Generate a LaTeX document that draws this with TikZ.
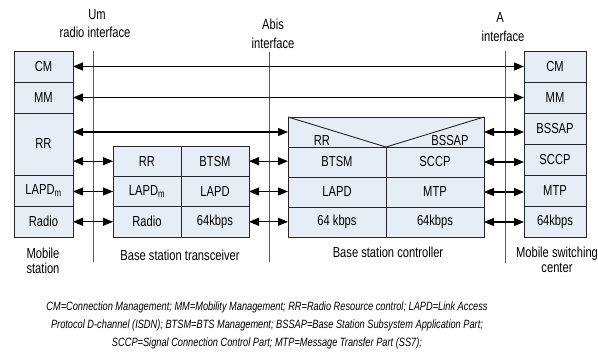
\documentclass[tikz,border=0pt]{standalone}
\usepackage{fontspec}
\setmainfont{Liberation Sans}[FakeStretch=0.77]
\usetikzlibrary{arrows.meta}
\definecolor{cellfill}{RGB}{230,237,247}
\definecolor{ifline}{RGB}{90,90,90}
\tikzset{
 cell/.style={draw=black!85, fill=cellfill, line width=0.9pt, inner sep=0pt, outer sep=0pt, font=\fontsize{14.5}{16}\selectfont},
 link/.style={line width=1.1pt, {Triangle[length=10pt,width=8pt]}-{Triangle[length=10pt,width=8pt]}},
 ifc/.style={draw=ifline, line width=0.9pt},
 lbl/.style={font=\fontsize{14.5}{15.5}\selectfont, align=center, inner sep=0pt},
 captxt/.style={font=\itshape\fontsize{12}{18}\selectfont, align=center, inner sep=0pt}
}
\begin{document}
\begin{tikzpicture}[x=1pt,y=-1pt]
\useasboundingbox (0,0) rectangle (598,360);
% interface lines
\coordinate (umT) at (93,51); \coordinate (umB) at (93,262);
\coordinate (abT) at (269,52); \coordinate (abB) at (269,262);
\coordinate (aT) at (505,51); \coordinate (aB) at (505,263);
\draw[ifc] (umT) -- (umB);
\draw[ifc] (abT) -- (abB);
\draw[ifc] (aT) -- (aB);
\node[lbl] (umlbl) at (97,15) {Um};
\node[lbl] (umlbl2) at (95,32) {radio interface};
\node[lbl] (ablbl) at (273,24) {Abis};
\node[lbl] (ablbl2) at (273,43) {interface};
\node[lbl] (albl) at (500,18) {A};
\node[lbl] (albl2) at (503,36) {interface};
% mobile station
\node[cell, minimum width=59pt, minimum height=31pt] (msCM) at (43.5,66.5) {CM};
\node[cell, minimum width=59pt, minimum height=31pt] (msMM) at (43.5,97.5) {MM};
\node[cell, minimum width=59pt, minimum height=62pt] (msRR) at (43.5,144) {RR};
\node[cell, minimum width=59pt, minimum height=31pt] (msLAPD) at (43.5,190.5) {LAPD\textsubscript{m}};
\node[cell, minimum width=59pt, minimum height=31pt] (msRadio) at (43.5,221.5) {Radio};
% BTS
\node[cell, minimum width=68pt, minimum height=30.33pt] (btsRR) at (147,161.2) {RR};
\node[cell, minimum width=68pt, minimum height=30.33pt] (btsBTSM) at (215,161.2) {BTSM};
\node[cell, minimum width=68pt, minimum height=30.33pt] (btsLAPDm) at (147,191.5) {LAPD\textsubscript{m}};
\node[cell, minimum width=68pt, minimum height=30.33pt] (btsLAPD) at (215,191.5) {LAPD};
\node[cell, minimum width=68pt, minimum height=30.33pt] (btsRadio) at (147,221.8) {Radio};
\node[cell, minimum width=68pt, minimum height=30.33pt] (bts64) at (215,221.8) {64kbps};
% BSC
\node[cell, minimum width=196pt, minimum height=30pt] (bscTop) at (386,132) {};
\draw[line width=0.9pt, black!85] (bscTop.north west) -- (bscTop.south) -- (bscTop.north east);
\node[lbl] (bscRRl) at (322,141) {RR};
\node[lbl] (bscBSSAPl) at (450,141) {BSSAP};
\node[cell, minimum width=98pt, minimum height=30pt] (bscBTSM) at (337,162) {BTSM};
\node[cell, minimum width=98pt, minimum height=30pt] (bscSCCP) at (435,162) {SCCP};
\node[cell, minimum width=98pt, minimum height=30pt] (bscLAPD) at (337,192) {LAPD};
\node[cell, minimum width=98pt, minimum height=30pt] (bscMTP) at (435,192) {MTP};
\node[cell, minimum width=98pt, minimum height=30pt] (bsc64a) at (337,222) {64 kbps};
\node[cell, minimum width=98pt, minimum height=30pt] (bsc64b) at (435,222) {64kbps};
% MSC
\node[cell, minimum width=62pt, minimum height=31pt] (mscCM) at (555,66.5) {CM};
\node[cell, minimum width=62pt, minimum height=31pt] (mscMM) at (555,97.5) {MM};
\node[cell, minimum width=62pt, minimum height=31pt] (mscBSSAP) at (555,128.5) {BSSAP};
\node[cell, minimum width=62pt, minimum height=31pt] (mscSCCP) at (555,159.5) {SCCP};
\node[cell, minimum width=62pt, minimum height=31pt] (mscMTP) at (555,190.5) {MTP};
\node[cell, minimum width=62pt, minimum height=31pt] (msc64) at (555,221.5) {64kbps};
% links
\draw[link] (msCM.east) -- (mscCM.west);
\draw[link] (msMM.east) -- (mscMM.west);
\draw[link] (msRR.east |- bscTop.west) -- (bscTop.west);
\draw[link] (bscTop.east) -- (mscBSSAP.west |- bscTop.east);
\draw[link] (msRR.east |- btsRR.west) -- (btsRR.west);
\draw[link] (msLAPD.east |- btsLAPDm.west) -- (btsLAPDm.west);
\draw[link] (msRadio.east |- btsRadio.west) -- (btsRadio.west);
\draw[link] (btsBTSM.east) -- (bscBTSM.west |- btsBTSM.east);
\draw[link] (btsLAPD.east) -- (bscLAPD.west |- btsLAPD.east);
\draw[link] (bts64.east) -- (bsc64a.west |- bts64.east);
\draw[link] (bscSCCP.east) -- (mscSCCP.west |- bscSCCP.east);
\draw[link] (bscMTP.east) -- (mscMTP.west |- bscMTP.east);
\draw[link] (bsc64b.east) -- (msc64.west |- bsc64b.east);
% bottom labels
\node[lbl] (msname) at (43,261) {Mobile\\station};
\node[lbl] (btsname) at (180,255) {Base station transceiver};
\node[lbl] (bscname) at (388,252) {Base station controller};
\node[lbl] (mscname) at (557,260) {Mobile switching\\center};
% caption
\node[captxt] (caption) at (267,325) {CM=Connection Management; MM=Mobility Management; RR=Radio Resource control; LAPD=Link Access\\Protocol D-channel (ISDN); BTSM=BTS Management; BSSAP=Base Station Subsystem Application Part;\\SCCP=Signal Connection Control Part; MTP=Message Transfer Part (SS7);};
\end{tikzpicture}
\end{document}
